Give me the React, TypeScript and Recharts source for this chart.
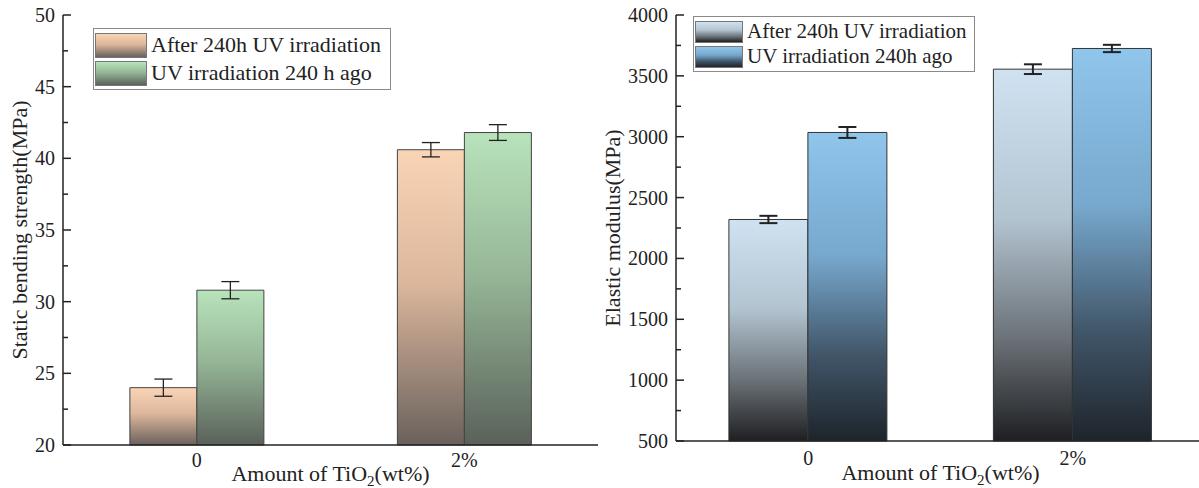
import React from "react";
import { BarChart, Bar, XAxis, YAxis, ErrorBar, Legend } from "recharts";

const SERIF = "Liberation Serif, Times New Roman, serif";
const INK = "#222";
const textStyle = (size: number) => ({ fontFamily: SERIF, fontSize: size, fill: INK });

const categories = ["0", "2%"];

// static bending strength (MPa)
const strengthAfter = [24.0, 40.6];
const strengthAfterErr = [0.6, 0.5];
const strengthAgo = [30.8, 41.8];
const strengthAgoErr = [0.6, 0.55];
const strengthTicks = [20, 22.5, 25, 27.5, 30, 32.5, 35, 37.5, 40, 42.5, 45, 47.5, 50];

// elastic modulus (MPa)
const modulusAfter = [2320, 3555];
const modulusAfterErr = [30, 40];
const modulusAgo = [3035, 3725];
const modulusAgoErr = [45, 30];
const modulusTicks = [500, 750, 1000, 1250, 1500, 1750, 2000, 2250, 2500, 2750, 3000, 3250, 3500, 3750, 4000];

const strengthData = categories.map((cat, i) => ({
  cat,
  after: strengthAfter[i],
  afterErr: strengthAfterErr[i],
  ago: strengthAgo[i],
  agoErr: strengthAgoErr[i],
}));

const modulusData = categories.map((cat, i) => ({
  cat,
  after: modulusAfter[i],
  afterErr: modulusAfterErr[i],
  ago: modulusAgo[i],
  agoErr: modulusAgoErr[i],
}));

type Stop = [string, string];

const GRADS: Record<string, Stop[]> = {
  peach: [["0%", "#f9d4b5"], ["45%", "#dcb79c"], ["100%", "#6a615c"]],
  green: [["0%", "#b8e3bb"], ["45%", "#96b797"], ["100%", "#5a615a"]],
  grey: [["0%", "#d0e2f1"], ["40%", "#b3c4d1"], ["72%", "#6c7379"], ["100%", "#1e1f22"]],
  blue: [["0%", "#90c5ec"], ["40%", "#77a8cd"], ["72%", "#415669"], ["100%", "#1e242b"]],
};

const cssGrad = (key: string) =>
  `linear-gradient(to bottom, ${GRADS[key].map(([o, c]) => `${c} ${o}`).join(", ")})`;

function Gradients() {
  return (
    <defs>
      {Object.keys(GRADS).map((k) => (
        <linearGradient key={k} id={`g-${k}`} x1="0" y1="0" x2="0" y2="1">
          {GRADS[k].map(([o, c]) => (
            <stop key={o} offset={o} stopColor={c} />
          ))}
        </linearGradient>
      ))}
    </defs>
  );
}

function makeYTick(step: number) {
  return (props: any) => {
    const { x, y, payload } = props;
    const v = payload.value;
    const major = Math.abs(v / step - Math.round(v / step)) < 1e-6;
    const ax = x + 8;
    return (
      <g>
        <line x1={ax} x2={ax + (major ? 8 : 5)} y1={y} y2={y} stroke={INK} strokeWidth={1.5} />
        {major && (
          <text className="serif" x={x} y={y} dy="0.35em" textAnchor="end" style={textStyle(20)}>
            {v}
          </text>
        )}
      </g>
    );
  };
}

function XTick(props: any) {
  const { x, y, payload } = props;
  return (
    <text className="serif" x={x} y={y} dy="0.75em" textAnchor="middle" style={textStyle(20)}>
      {payload.value}
    </text>
  );
}

function yTitle(text: string, cx: number, size: number) {
  return (props: any) => {
    const vb = props.viewBox;
    const cy = vb.y + vb.height / 2;
    return (
      <text
        className="serif"
        x={cx}
        y={cy}
        dy="0.35em"
        textAnchor="middle"
        transform={`rotate(-90, ${cx}, ${cy})`}
        style={textStyle(size)}
      >
        {text}
      </text>
    );
  };
}

function xTitle(dy: number) {
  return (props: any) => {
    const vb = props.viewBox;
    const cx = vb.x + vb.width / 2;
    return (
      <text className="serif" x={cx} y={vb.y + dy} textAnchor="middle" style={textStyle(22)}>
        Amount of TiO
        <tspan style={{ fontSize: 15 }} dy={5}>2</tspan>
        <tspan dy={-5}>(wt%)</tspan>
      </text>
    );
  };
}

function boxLegend(
  items: { label: string; grad: string }[],
  o: { fontSize: number; sw: number; sh: number; row: number }
) {
  return () => (
    <div
      style={{
        border: "1px solid #8a8a8a",
        background: "#fff",
        padding: "2px 8px 2px 1px",
        fontFamily: SERIF,
        fontSize: o.fontSize,
        color: INK,
        lineHeight: 1,
      }}
    >
      {items.map((it) => (
        <div key={it.label} style={{ display: "flex", alignItems: "center", height: o.row }}>
          <span
            style={{
              width: o.sw,
              height: o.sh,
              boxSizing: "border-box",
              border: "1px solid #777",
              background: cssGrad(it.grad),
              marginRight: 4,
              flex: "none",
            }}
          />
          <span style={{ whiteSpace: "nowrap" }}>{it.label}</span>
        </div>
      ))}
    </div>
  );
}

function StrengthChart() {
  return (
    <BarChart
      width={600}
      height={488}
      data={strengthData}
      margin={{ top: 15, right: 2, left: 0, bottom: 0 }}
      barCategoryGap="25%"
      barGap={0}
    >
      <Gradients />
      <XAxis
        dataKey="cat"
        height={43}
        tickLine={false}
        tickSize={0}
        tickMargin={7}
        axisLine={{ stroke: INK, strokeWidth: 1.5 }}
        tick={<XTick />}
        label={xTitle(36)}
      />
      <XAxis xAxisId="top" dataKey="cat" orientation="top" height={0} tick={false} tickLine={false} axisLine={{ stroke: "#555", strokeWidth: 1.5 }} />
      <YAxis
        width={63}
        domain={[20, 50]}
        ticks={strengthTicks}
        interval={0}
        tickLine={false}
        tickSize={0}
        tickMargin={8}
        axisLine={{ stroke: INK, strokeWidth: 1.5 }}
        tick={makeYTick(5)}
        label={yTitle("Static bending strength(MPa)", 19, 22)}
      />
      <YAxis yAxisId="r" orientation="right" width={0} domain={[20, 50]} tick={false} tickLine={false} axisLine={{ stroke: INK, strokeWidth: 1.5 }} />
      <Legend
        layout="horizontal"
        verticalAlign="middle"
        align="center"
        wrapperStyle={{ top: 28, left: 93, width: 298 }}
        content={boxLegend(
          [
            { label: "After 240h UV irradiation", grad: "peach" },
            { label: "UV irradiation 240 h ago", grad: "green" },
          ],
          { fontSize: 22, sw: 52, sh: 25, row: 28 }
        )}
      />
      <Bar dataKey="after" name="After 240h UV irradiation" fill="url(#g-peach)" stroke="#444" strokeWidth={1} isAnimationActive={false}>
        <ErrorBar dataKey="afterErr" width={9} stroke={INK} strokeWidth={1.3} />
      </Bar>
      <Bar dataKey="ago" name="UV irradiation 240 h ago" fill="url(#g-green)" stroke="#444" strokeWidth={1} isAnimationActive={false}>
        <ErrorBar dataKey="agoErr" width={9} stroke={INK} strokeWidth={1.3} />
      </Bar>
    </BarChart>
  );
}

function ModulusChart() {
  return (
    <BarChart
      width={610}
      height={488}
      data={modulusData}
      margin={{ top: 15, right: 5, left: 0, bottom: 0 }}
      barCategoryGap="20%"
      barGap={0}
    >
      <Gradients />
      <XAxis
        dataKey="cat"
        height={47}
        tickLine={false}
        tickSize={0}
        tickMargin={9}
        axisLine={{ stroke: INK, strokeWidth: 1.5 }}
        tick={<XTick />}
        label={xTitle(39)}
      />
      <XAxis xAxisId="top" dataKey="cat" orientation="top" height={0} tick={false} tickLine={false} axisLine={{ stroke: "#555", strokeWidth: 1.5 }} />
      <YAxis
        width={76}
        domain={[500, 4000]}
        ticks={modulusTicks}
        interval={0}
        tickLine={false}
        tickSize={0}
        tickMargin={8}
        axisLine={{ stroke: INK, strokeWidth: 1.5 }}
        tick={makeYTick(500)}
        label={yTitle("Elastic modulus(MPa)", 12, 22)}
      />
      <Legend
        layout="horizontal"
        verticalAlign="middle"
        align="center"
        wrapperStyle={{ top: 16, left: 93, width: 282 }}
        content={boxLegend(
          [
            { label: "After 240h UV irradiation", grad: "grey" },
            { label: "UV irradiation 240h ago", grad: "blue" },
          ],
          { fontSize: 21, sw: 48, sh: 22, row: 25 }
        )}
      />
      <Bar dataKey="after" name="After 240h UV irradiation" fill="url(#g-grey)" stroke="#333" strokeWidth={1} isAnimationActive={false}>
        <ErrorBar dataKey="afterErr" width={9} stroke={INK} strokeWidth={2} />
      </Bar>
      <Bar dataKey="ago" name="UV irradiation 240h ago" fill="url(#g-blue)" stroke="#333" strokeWidth={1} isAnimationActive={false}>
        <ErrorBar dataKey="agoErr" width={9} stroke={INK} strokeWidth={2} />
      </Bar>
    </BarChart>
  );
}

export default function App() {
  return (
    <div style={{ position: "absolute", left: 0, top: 0, width: 1199, height: 488, background: "#fff", overflow: "hidden", fontFamily: SERIF }}>
      <style>{`svg text.serif, svg text.serif tspan { font-family: "Liberation Serif", "Times New Roman", serif !important; }`}</style>
      <div style={{ position: "absolute", left: 0, top: 0, width: 600, height: 488 }}>
        <StrengthChart />
      </div>
      <div style={{ position: "absolute", left: 600, top: 0, width: 599, height: 488, overflow: "hidden" }}>
        <ModulusChart />
      </div>
    </div>
  );
}
